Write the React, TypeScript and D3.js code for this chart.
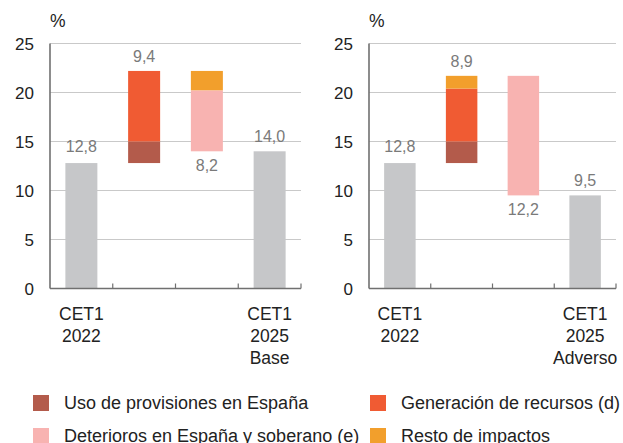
import React from "react";
import * as d3 from "d3";

const seriesKeys = ["uso", "gen", "det", "resto"];
const seriesNames = [
  "Uso de provisiones en España",
  "Generación de recursos (d)",
  "Deterioros en España y soberano (e)",
  "Resto de impactos",
];
const seriesColors = ["#b35b4b", "#f05b33", "#f8b3b1", "#f29f2c"];
const totalColor = "#c6c7c9";

const yTicks = [0, 5, 10, 15, 20, 25];
const categories = ["start", "up", "down", "end"];

// Base scenario
const baseStart = 12.8;
const baseUpKeys = ["uso", "gen"];
const baseUpValues = [2.2, 7.2];
const baseDownKeys = ["resto", "det"];
const baseDownValues = [2.0, 6.2];
const baseLabels = ["12,8", "9,4", "8,2", "14,0"];
const baseXLabel = ["CET1", "2025", "Base"];

// Adverse scenario
const advStart = 12.8;
const advUpKeys = ["uso", "gen", "resto"];
const advUpValues = [2.2, 5.4, 1.3];
const advDownKeys = ["det"];
const advDownValues = [12.2];
const advLabels = ["12,8", "8,9", "12,2", "9,5"];
const advXLabel = ["CET1", "2025", "Adverso"];

const startXLabel = ["CET1", "2022"];

const FONT = "'Liberation Sans', Arial, Helvetica, sans-serif";

type Seg = { key: string; y0: number; y1: number };

function Panel({ x0, x1, start, upKeys, upValues, downKeys, downValues, labels, endLabel }: any) {
  const y = d3.scaleLinear().domain([0, 25]).range([288.5, 43.5]);
  const x = d3.scaleBand().domain(categories).range([x0, x1]).paddingInner(0.49).paddingOuter(0.245);
  const band = d3.scaleBand().domain(categories).range([x0, x1]);
  const color = d3.scaleOrdinal<string, string>().domain(seriesKeys).range(seriesColors);

  const upSegs: Seg[] = [];
  let acc = start;
  upKeys.forEach((k: string, i: number) => {
    upSegs.push({ key: k, y0: acc, y1: acc + upValues[i] });
    acc += upValues[i];
  });
  const top = acc;
  const downSegs: Seg[] = [];
  downKeys.forEach((k: string, i: number) => {
    downSegs.push({ key: k, y0: acc - downValues[i], y1: acc });
    acc -= downValues[i];
  });
  const end = acc;
  const bw = x.bandwidth();
  const lblColor = "#7a7a7a";
  const cx = (c: string) => (x(c) as number) + bw / 2;

  return (
    <g>
      {yTicks.map((t) => (
        <g key={t}>
          {t > 0 && <line x1={x0} x2={x1} y1={y(t)} y2={y(t)} stroke="#c9c9c9" strokeWidth={1} />}
          <text x={x0 - 16} y={y(t)} dy="0.36em" textAnchor="end" fontSize={17} fill="#222" fontFamily={FONT}>
            {t}
          </text>
        </g>
      ))}
      <text x={x0} y={27} fontSize={17.5} fill="#222" fontFamily={FONT}>%</text>

      <rect x={x("start")} y={y(start)} width={bw} height={y(0) - y(start)} fill={totalColor} />
      {upSegs.map((s) => (
        <rect key={"u" + s.key} x={x("up")} y={y(s.y1)} width={bw} height={y(s.y0) - y(s.y1)} fill={color(s.key)} />
      ))}
      {downSegs.map((s) => (
        <rect key={"d" + s.key} x={x("down")} y={y(s.y1)} width={bw} height={y(s.y0) - y(s.y1)} fill={color(s.key)} />
      ))}
      <rect x={x("end")} y={y(end)} width={bw} height={y(0) - y(end)} fill={totalColor} />

      <text x={cx("start")} y={y(start) - 11} textAnchor="middle" fontSize={16} fill={lblColor} fontFamily={FONT}>{labels[0]}</text>
      <text x={cx("up")} y={y(top) - 9} textAnchor="middle" fontSize={16} fill={lblColor} fontFamily={FONT}>{labels[1]}</text>
      <text x={cx("down")} y={y(end) + 20} textAnchor="middle" fontSize={16} fill={lblColor} fontFamily={FONT}>{labels[2]}</text>
      <text x={cx("end")} y={y(end) - 9} textAnchor="middle" fontSize={16} fill={lblColor} fontFamily={FONT}>{labels[3]}</text>

      <line x1={x0} x2={x0} y1={y(25)} y2={y(0)} stroke="#707070" strokeWidth={1.6} />
      <line x1={x0} x2={x1} y1={y(0)} y2={y(0)} stroke="#707070" strokeWidth={1.6} />
      {categories.map((c) => {
        const bx = (band(c) as number) + band.bandwidth();
        return <line key={c} x1={bx} x2={bx} y1={y(0)} y2={y(0) - 5} stroke="#707070" strokeWidth={1.2} />;
      })}

      <text x={cx("start")} y={320} textAnchor="middle" fontSize={17.5} fill="#222" fontFamily={FONT}>
        {startXLabel.map((l, i) => (
          <tspan key={i} x={cx("start")} dy={i === 0 ? 0 : 22}>{l}</tspan>
        ))}
      </text>
      <text x={cx("end")} y={320} textAnchor="middle" fontSize={17.5} fill="#222" fontFamily={FONT}>
        {endLabel.map((l: string, i: number) => (
          <tspan key={i} x={cx("end")} dy={i === 0 ? 0 : 22}>{l}</tspan>
        ))}
      </text>
    </g>
  );
}

export default function App() {
  const legendPos = [
    [33, 395],
    [370, 395],
    [33, 428],
    [370, 428],
  ];
  return (
    <svg width={623} height={443} style={{ position: "absolute", left: 0, top: 0, background: "#fff" }}>
      <Panel x0={50} x1={301} start={baseStart} upKeys={baseUpKeys} upValues={baseUpValues}
        downKeys={baseDownKeys} downValues={baseDownValues} labels={baseLabels} endLabel={baseXLabel} />
      <Panel x0={369} x1={616} start={advStart} upKeys={advUpKeys} upValues={advUpValues}
        downKeys={advDownKeys} downValues={advDownValues} labels={advLabels} endLabel={advXLabel} />
      {seriesNames.map((n, i) => (
        <g key={n} transform={`translate(${legendPos[i][0]},${legendPos[i][1]})`}>
          <rect width={16} height={16} fill={seriesColors[i]} />
          <text x={31} y={8} dy="0.36em" fontSize={18} fill="#222" fontFamily={FONT}>{n}</text>
        </g>
      ))}
    </svg>
  );
}
